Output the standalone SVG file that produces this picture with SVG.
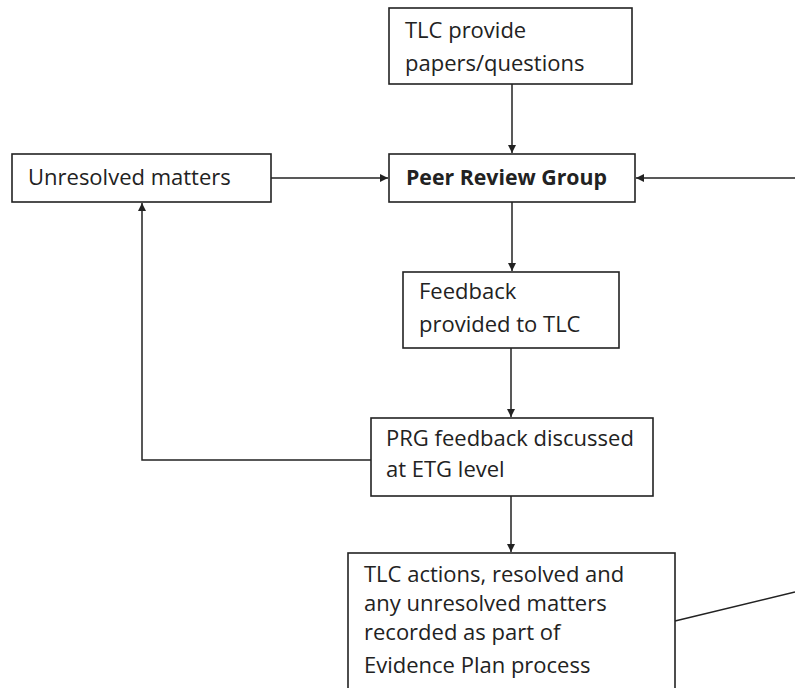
<svg xmlns="http://www.w3.org/2000/svg" width="795" height="688" viewBox="0 0 795 688">
<style>
.box{fill:#fff;stroke:#222;stroke-width:1.6}
.t{font-family:"Open Sans","Noto Sans",sans-serif;font-size:22px;fill:#222}
.b{font-weight:bold}
.c{fill:none;stroke:#222;stroke-width:1.5}
</style>
<defs>
<marker id="ah" viewBox="0 0 10 10" refX="10" refY="5" markerWidth="8" markerHeight="8" markerUnits="userSpaceOnUse" orient="auto">
<path d="M0,0 L10,5 L0,10 z" fill="#222"/>
</marker>
</defs>
<rect width="795" height="688" fill="#fff"/>
<g id="connectors">
<line class="c" x1="512" y1="84" x2="512" y2="153" marker-end="url(#ah)"/>
<line class="c" x1="271" y1="178" x2="388" y2="178" marker-end="url(#ah)"/>
<line class="c" x1="795" y1="178" x2="636" y2="178" marker-end="url(#ah)"/>
<line class="c" x1="512" y1="202" x2="512" y2="271" marker-end="url(#ah)"/>
<line class="c" x1="511" y1="348" x2="511" y2="417" marker-end="url(#ah)"/>
<polyline class="c" points="371,460 142,460 142,203" marker-end="url(#ah)"/>
<line class="c" x1="511" y1="496" x2="511" y2="552" marker-end="url(#ah)"/>
<line class="c" x1="675" y1="621" x2="795" y2="592"/>
</g>
<g id="n1">
<rect class="box" x="389" y="8" width="243" height="76"/>
<text class="t" x="405" y="38">TLC provide</text>
<text class="t" x="405" y="71">papers/questions</text>
</g>
<g id="n2">
<rect class="box" x="12" y="154" width="259" height="48"/>
<text class="t" x="28" y="185">Unresolved matters</text>
</g>
<g id="n3">
<rect class="box" x="389" y="154" width="246" height="48"/>
<text class="t b" x="406" y="185" textLength="201" lengthAdjust="spacingAndGlyphs">Peer Review Group</text>
</g>
<g id="n4">
<rect class="box" x="403" y="272" width="216" height="76"/>
<text class="t" x="419" y="299">Feedback</text>
<text class="t" x="419" y="332">provided to TLC</text>
</g>
<g id="n5">
<rect class="box" x="371" y="418" width="282" height="78"/>
<text class="t" x="386" y="446">PRG feedback discussed</text>
<text class="t" x="386" y="477">at ETG level</text>
</g>
<g id="n6">
<rect class="box" x="348" y="553" width="327" height="150"/>
<text class="t" x="364" y="582">TLC actions, resolved and</text>
<text class="t" x="364" y="611">any unresolved matters</text>
<text class="t" x="364" y="640">recorded as part of</text>
<text class="t" x="364" y="673">Evidence Plan process</text>
</g>
</svg>
